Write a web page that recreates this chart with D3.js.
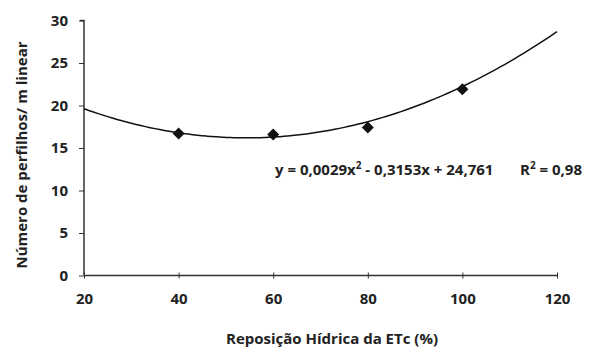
<!DOCTYPE html>
<html>
<head>
<meta charset="utf-8">
<script src="https://cdn.jsdelivr.net/npm/d3@7"></script>
<style>
  body { margin: 0; background: #fff; }
  text { font-family: "Open Sans", "DejaVu Sans", sans-serif; font-weight: bold; fill: #222; }
</style>
</head>
<body>
<div id="chart"></div>
<script>
// data
var reposicao = [40, 60, 80, 100];
var perfilhos = [16.7, 16.6, 17.4, 21.9];
var xTicks = [20, 40, 60, 80, 100, 120];
var yTicks = [0, 5, 10, 15, 20, 25, 30];
// trendline coefficients (from the equation label)
var coef = [0.0029, -0.3153, 24.761];

var margin = {top: 20.5, right: 33, bottom: 73.5, left: 84},
    width = 590 - margin.left - margin.right,
    height = 349 - margin.top - margin.bottom;

var svg = d3.select("#chart")
  .append("svg")
    .attr("width", 590)
    .attr("height", 349)
  .append("g")
    .attr("transform", "translate(" + margin.left + "," + margin.top + ")");

var x = d3.scaleLinear().domain([20, 120]).range([0, width]);
var y = d3.scaleLinear().domain([0, 30]).range([height, 0]);

// Y axis
var yAxis = svg.append("g")
  .call(d3.axisLeft(y).tickValues(yTicks).tickSize(5).tickPadding(11));
yAxis.select(".domain").attr("stroke", "#333").attr("stroke-width", 1.5).attr("d", "M0," + height + "V0H-4");
yAxis.selectAll("text").style("font-size", "15px");
yAxis.selectAll("line").attr("stroke", "#333");

// X axis
var xAxis = svg.append("g")
  .attr("transform", "translate(0," + height + ")")
  .call(d3.axisBottom(x).tickValues(xTicks).tickSize(4).tickPadding(14));
xAxis.select(".domain").attr("stroke", "#333").attr("stroke-width", 1.5).attr("d", "M0,0H" + width);
xAxis.selectAll("line").attr("stroke", "#333").attr("y1", -3).attr("y2", 3);
xAxis.selectAll("text").style("font-size", "15px");

// trendline
var curveX = d3.range(20, 120.5, 1);
var line = d3.line()
  .x(function(d) { return x(d); })
  .y(function(d) { return y(coef[0] * d * d + coef[1] * d + coef[2]); })
  .curve(d3.curveBasis);
svg.append("path")
  .datum(curveX)
  .attr("fill", "none")
  .attr("stroke", "#111")
  .attr("stroke-width", 1.5)
  .attr("d", line);

// points (square diamonds)
svg.selectAll(".pt")
  .data(reposicao)
  .enter().append("path")
    .attr("class", "pt")
    .attr("transform", function(d, i) { return "translate(" + x(d) + "," + y(perfilhos[i]) + ")"; })
    .attr("d", "M0,-6L6,0L0,6L-6,0Z")
    .attr("fill", "#111");

// equation label
var eq = svg.append("text")
  .attr("x", 191)
  .attr("y", 154.5)
  .style("font-size", "15px");
eq.append("tspan").text("y = 0,0029x");
eq.append("tspan").attr("dy", -6).style("font-size", "10px").text("2");
eq.append("tspan").attr("dy", 6).text(" - 0,3153x + 24,761");
var r2 = svg.append("text")
  .attr("x", 436)
  .attr("y", 154.5)
  .style("font-size", "15px");
r2.append("tspan").text("R");
r2.append("tspan").attr("dy", -6).style("font-size", "10px").text("2");
r2.append("tspan").attr("dy", 6).text(" = 0,98");

// axis titles
svg.append("text")
  .attr("transform", "rotate(-90)")
  .attr("x", -134.5)
  .attr("y", -57)
  .style("text-anchor", "middle")
  .style("font-size", "15px")
  .text("Número de perfilhos/ m linear");

svg.append("text")
  .attr("x", 248)
  .attr("y", 323.5)
  .style("text-anchor", "middle")
  .style("font-size", "15px")
  .text("Reposição Hídrica da ETc (%)");
</script>
</body>
</html>
